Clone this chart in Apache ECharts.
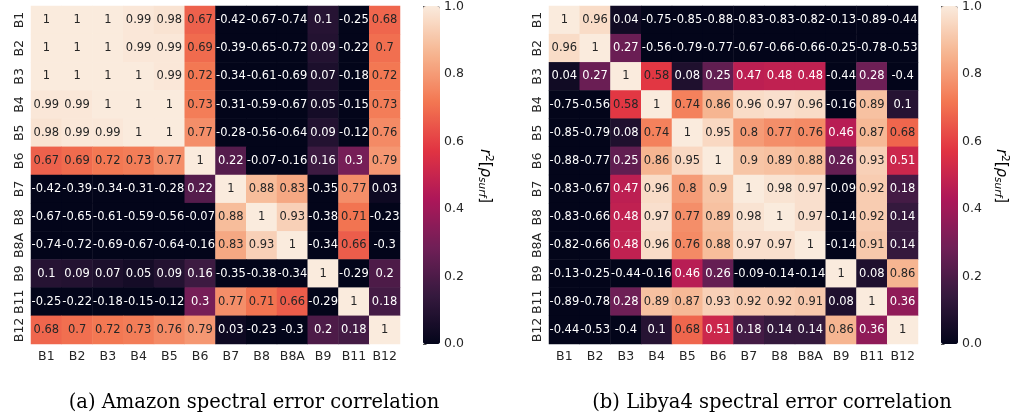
<!DOCTYPE html>
<html>
<head>
<meta charset="utf-8">
<script src="https://cdn.jsdelivr.net/npm/echarts@6/dist/echarts.min.js"></script>
<style>
  html, body { margin: 0; padding: 0; background: #fff; }
  #chart { width: 1013px; height: 420px; }
</style>
</head>
<body>
<div id="chart"></div>
<script>
const bands = ['B1', 'B2', 'B3', 'B4', 'B5', 'B6', 'B7', 'B8', 'B8A', 'B9', 'B11', 'B12']

// rows follow bands, top to bottom
const amazon = [
  [1, 1, 1, 0.99, 0.98, 0.67, -0.42, -0.67, -0.74, 0.1, -0.25, 0.68],
  [1, 1, 1, 0.99, 0.99, 0.69, -0.39, -0.65, -0.72, 0.09, -0.22, 0.7],
  [1, 1, 1, 1, 0.99, 0.72, -0.34, -0.61, -0.69, 0.07, -0.18, 0.72],
  [0.99, 0.99, 1, 1, 1, 0.73, -0.31, -0.59, -0.67, 0.05, -0.15, 0.73],
  [0.98, 0.99, 0.99, 1, 1, 0.77, -0.28, -0.56, -0.64, 0.09, -0.12, 0.76],
  [0.67, 0.69, 0.72, 0.73, 0.77, 1, 0.22, -0.07, -0.16, 0.16, 0.3, 0.79],
  [-0.42, -0.39, -0.34, -0.31, -0.28, 0.22, 1, 0.88, 0.83, -0.35, 0.77, 0.03],
  [-0.67, -0.65, -0.61, -0.59, -0.56, -0.07, 0.88, 1, 0.93, -0.38, 0.71, -0.23],
  [-0.74, -0.72, -0.69, -0.67, -0.64, -0.16, 0.83, 0.93, 1, -0.34, 0.66, -0.3],
  [0.1, 0.09, 0.07, 0.05, 0.09, 0.16, -0.35, -0.38, -0.34, 1, -0.29, 0.2],
  [-0.25, -0.22, -0.18, -0.15, -0.12, 0.3, 0.77, 0.71, 0.66, -0.29, 1, 0.18],
  [0.68, 0.7, 0.72, 0.73, 0.76, 0.79, 0.03, -0.23, -0.3, 0.2, 0.18, 1]
]

const libya = [
  [1, 0.96, 0.04, -0.75, -0.85, -0.88, -0.83, -0.83, -0.82, -0.13, -0.89, -0.44],
  [0.96, 1, 0.27, -0.56, -0.79, -0.77, -0.67, -0.66, -0.66, -0.25, -0.78, -0.53],
  [0.04, 0.27, 1, 0.58, 0.08, 0.25, 0.47, 0.48, 0.48, -0.44, 0.28, -0.4],
  [-0.75, -0.56, 0.58, 1, 0.74, 0.86, 0.96, 0.97, 0.96, -0.16, 0.89, 0.1],
  [-0.85, -0.79, 0.08, 0.74, 1, 0.95, 0.8, 0.77, 0.76, 0.46, 0.87, 0.68],
  [-0.88, -0.77, 0.25, 0.86, 0.95, 1, 0.9, 0.89, 0.88, 0.26, 0.93, 0.51],
  [-0.83, -0.67, 0.47, 0.96, 0.8, 0.9, 1, 0.98, 0.97, -0.09, 0.92, 0.18],
  [-0.83, -0.66, 0.48, 0.97, 0.77, 0.89, 0.98, 1, 0.97, -0.14, 0.92, 0.14],
  [-0.82, -0.66, 0.48, 0.96, 0.76, 0.88, 0.97, 0.97, 1, -0.14, 0.91, 0.14],
  [-0.13, -0.25, -0.44, -0.16, 0.46, 0.26, -0.09, -0.14, -0.14, 1, 0.08, 0.86],
  [-0.89, -0.78, 0.28, 0.89, 0.87, 0.93, 0.92, 0.92, 0.91, 0.08, 1, 0.36],
  [-0.44, -0.53, -0.4, 0.1, 0.68, 0.51, 0.18, 0.14, 0.14, 0.86, 0.36, 1]
]

const colorbarTicks = [0, 0.2, 0.4, 0.6, 0.8, 1]
const captions = ['(a) Amazon spectral error correlation', '(b) Libya4 spectral error correlation']

// seaborn "rocket", sampled at i/7
const rocket = ['#03051A', '#35193E', '#701F57', '#AD1759', '#E13342', '#F37651', '#F6B48F', '#FAEBDD']
const dark = '#262626'

const toCells = matrix => matrix.flatMap((row, i) => row.map((v, j) => ({
  value: [j, i, v],
  label: { color: v >= 0.55 ? dark : '#fff' }
})))

const chart = echarts.init(document.getElementById('chart'))

const panelLeft = [31, 549]
const barLeft = [423, 941]
const gridTop = 6
const size = { w: 369, h: 338 }

const catX = gridIndex => ({
  type: 'category', gridIndex, data: bands,
  axisLine: { show: false },
  axisTick: { alignWithLabel: true, interval: 0, length: 3.5, lineStyle: { color: dark, width: 0.8 } },
  axisLabel: { interval: 0, color: dark, fontSize: 12.5, fontFamily: 'DejaVu Sans', margin: 6 },
  splitArea: { show: false }
})
const catY = gridIndex => ({
  type: 'category', gridIndex, data: bands, inverse: true,
  axisLine: { show: false },
  axisTick: { alignWithLabel: true, interval: 0, length: 3.5, lineStyle: { color: dark, width: 0.8 } },
  axisLabel: { interval: 0, color: dark, fontSize: 12.5, fontFamily: 'DejaVu Sans', rotate: 90, margin: 5 },
  splitArea: { show: false }
})
const barY = gridIndex => ({
  type: 'value', gridIndex, min: 0, max: 1, interval: 0.2, position: 'right',
  axisLine: { show: false },
  splitLine: { show: false },
  axisTick: { show: true, length: 3.5, lineStyle: { color: dark, width: 0.8 } },
  axisLabel: { color: dark, fontSize: 12.5, fontFamily: 'DejaVu Sans', margin: 4,
    formatter: v => colorbarTicks.includes(+v.toFixed(1)) ? v.toFixed(1) : '' }
})

const heat = (data, idx) => ({
  type: 'heatmap', xAxisIndex: idx, yAxisIndex: idx, data: toCells(data),
  label: { show: true, fontSize: 11.5, fontFamily: 'DejaVu Sans',
    formatter: p => String(p.value[2]) },
  emphasis: { disabled: true }
})

const richLabel = {
  i: { fontFamily: 'DejaVu Sans', fontStyle: 'italic', fontSize: 15, fill: '#000' },
  n: { fontFamily: 'DejaVu Sans', fontSize: 15, fill: '#000' },
  sup: { fontFamily: 'DejaVu Sans', fontSize: 10.5, verticalAlign: 'top', padding: [0, 0, 7, 0], fill: '#000' },
  sub: { fontFamily: 'DejaVu Sans', fontStyle: 'italic', fontSize: 10.5, padding: [7, 0, 0, 0], fill: '#000' }
}

chart.setOption({
  animation: false,
  grid: [
    { left: panelLeft[0], top: gridTop, width: size.w, height: size.h },
    { left: panelLeft[1], top: gridTop, width: size.w, height: size.h },
    { left: barLeft[0], top: gridTop, width: 17, height: size.h },
    { left: barLeft[1], top: gridTop, width: 17, height: size.h }
  ],
  xAxis: [
    catX(0), catX(1),
    { type: 'value', gridIndex: 2, show: false, min: 0, max: 1 },
    { type: 'value', gridIndex: 3, show: false, min: 0, max: 1 }
  ],
  yAxis: [catY(0), catY(1), barY(2), barY(3)],
  visualMap: [0, 1].map(k => ({
    type: 'continuous', seriesIndex: k, min: 0, max: 1,
    calculable: false, realtime: false, padding: 0,
    left: barLeft[k], top: gridTop, itemWidth: 17, itemHeight: size.h,
    inRange: { color: rocket },
    outOfRange: { color: rocket[0] }
  })),
  series: [heat(amazon, 0), heat(libya, 1)],
  graphic: [
    ...[485, 1001].map(x => ({
      type: 'text', x, y: 176, rotation: -Math.PI / 2,
      style: { text: '{i|r}{sup|2}{n|[}{i|ρ}{sub|surf}{n|]}', rich: richLabel, align: 'center', verticalAlign: 'middle' }
    })),
    ...captions.map((t, k) => ({
      type: 'text', x: [254, 772][k], y: 403,
      style: { text: t, font: '19.5px "DejaVu Serif"', fill: '#000', align: 'center', verticalAlign: 'middle' }
    }))
  ]
})
</script>
</body>
</html>
